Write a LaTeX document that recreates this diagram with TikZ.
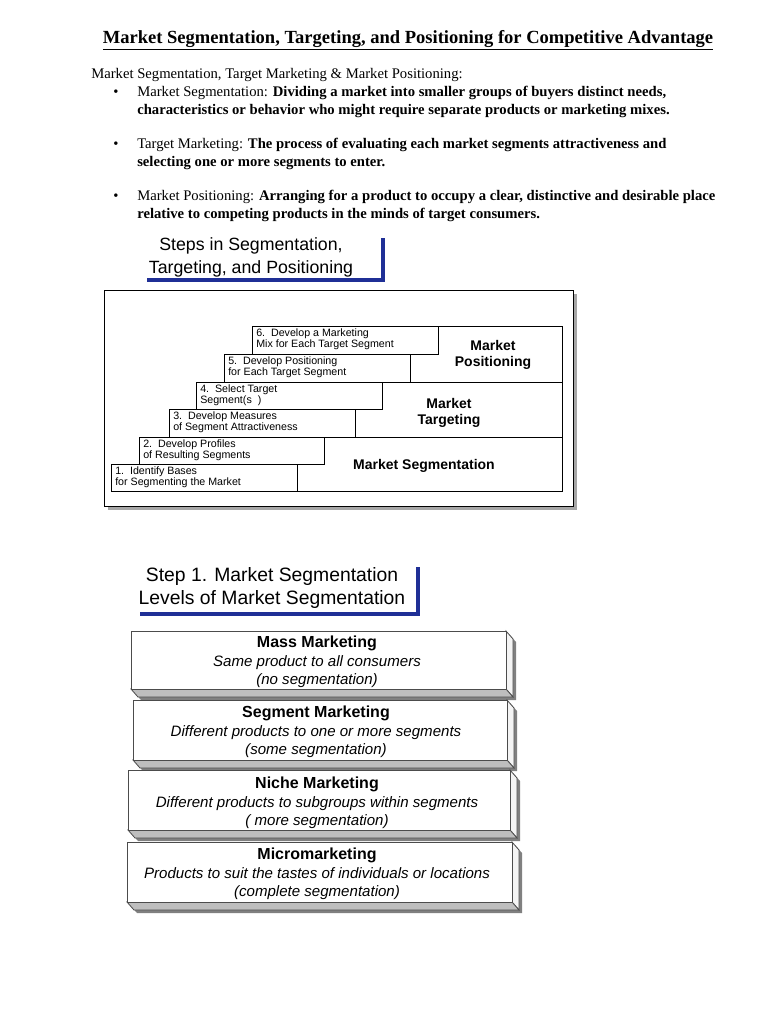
\documentclass[tikz,border=0pt]{standalone}
\usepackage{fontspec}
\setmainfont{Liberation Serif}
\setsansfont{Liberation Sans}
\definecolor{barblue}{HTML}{1F2F96}
\definecolor{slabside}{HTML}{F4F4F4}
\definecolor{slabbottom}{HTML}{BEBEBE}
\definecolor{slabshade}{HTML}{808080}
\tikzset{
  every picture/.style={line join=miter},
  bodytext/.style={anchor=west, align=left, inner sep=0pt, font=\fontsize{11}{13.5}\selectfont},
  dot/.style={inner sep=0pt, font=\fontsize{11}{13.5}\selectfont},
  heading/.style={align=center, inner sep=0pt, font=\sffamily\fontsize{13.3}{17.3}\selectfont},
  headbar/.style={barblue, line width=2.3pt},
  stepbox/.style={draw, fill=white, line width=0.6pt},
  steptext/.style={anchor=west, align=left, inner sep=0pt, font=\sffamily\fontsize{8}{8.3}\selectfont},
  stagetext/.style={align=center, inner sep=0pt, font=\sffamily\bfseries\fontsize{10.5}{12}\selectfont},
  leveltext/.style={align=center, inner sep=0pt, font=\sffamily\fontsize{11.3}{13.9}\selectfont},
}
\newcommand{\leveltitle}[1]{{\bfseries\fontsize{12}{13.9}\selectfont #1}}
% extruded level box: left, top, right, bottom (pixels, y down)
\newcommand{\levelslab}[4]{%
  \fill[slabshade] (#3+3,#2+3) -- (#3+10,#2+11) -- (#3+10,#4+11) -- (#1+10,#4+11) -- (#1+3,#4+3) -- (#3+3,#4+3) -- cycle;
  \filldraw[fill=slabside, draw=black!70, line width=0.6pt] (#3,#2) -- (#3+7,#2+8) -- (#3+7,#4+8) -- (#3,#4) -- cycle;
  \filldraw[fill=slabbottom, draw=black!70, line width=0.6pt] (#1,#4) -- (#1+7,#4+8) -- (#3+7,#4+8) -- (#3,#4) -- cycle;
  \draw[fill=white, draw=black!70, line width=0.6pt] (#1,#2) rectangle (#3,#4);
}

\begin{document}
\begin{tikzpicture}[x=0.75pt, y=-0.75pt]
  \useasboundingbox (0,0) rectangle (768,1024);
  \fill[white] (0,0) rectangle (768,1024);
  % title and the three definitions
  \node[inner sep=0pt, font=\bfseries\fontsize{13.9}{15}\selectfont] (title) at (408,40)
    {\underline{Market Segmentation, Targeting, and Positioning for Competitive Advantage}};
  \node[bodytext] (intro) at (91,75) {Market Segmentation, Target Marketing \& Market Positioning:};
  \node[dot] (dot1) at (116,93) {\textbullet};
  \node[bodytext] (segdef) at (137,102)
    {Market Segmentation: \textbf{Dividing a market into smaller groups of buyers distinct needs,}\\
     \textbf{characteristics or behavior who might require separate products or marketing mixes.}};
  \node[dot] (dot2) at (116,145) {\textbullet};
  \node[bodytext] (tardef) at (137,154)
    {Target Marketing: \textbf{The process of evaluating each market segments attractiveness and}\\
     \textbf{selecting one or more segments to enter.}};
  \node[dot] (dot3) at (116,197) {\textbullet};
  \node[bodytext] (posdef) at (137,206)
    {Market Positioning: \textbf{Arranging for a product to occupy a clear, distinctive and desirable place}\\
     \textbf{relative to competing products in the minds of target consumers.}};
  % first heading
  \node[heading] (stepshead) at (251,257) {Steps in Segmentation,\\Targeting, and Positioning};
  \draw[headbar] (147,280) -- (383,280) -- (383,238);
  % staircase frame with drop shadow
  \fill[gray!70] (108,294) rectangle (577,510);
  \draw[fill=white, line width=0.6pt] (104,290) rectangle (573,506);
  % stage blocks on the right
  \draw[stepbox] (297,437) rectangle (562,491);
  \draw[stepbox] (355,382) rectangle (562,437);
  \draw[stepbox] (410,326) rectangle (562,382);
  \node[stagetext] (segstage) at (424,466) {Market Segmentation};
  \node[stagetext] (tarstage) at (449,413) {Market\\Targeting};
  \node[stagetext] (posstage) at (493,355) {Market\\Positioning};
  % the six steps
  \draw[stepbox] (111,464) rectangle (297,491);
  \node[steptext] (step1) at (115,477) {1.\ \ Identify Bases\\for Segmenting the Market};
  \draw[stepbox] (139,437) rectangle (324,464);
  \node[steptext] (step2) at (143,450) {2.\ \ Develop Profiles\\of Resulting Segments};
  \draw[stepbox] (169,409) rectangle (355,437);
  \node[steptext] (step3) at (173,422) {3.\ \ Develop Measures\\of Segment Attractiveness};
  \draw[stepbox] (196,382) rectangle (382,409);
  \node[steptext] (step4) at (200,395) {4.\ \ Select Target\\Segment(s\ \ )};
  \draw[stepbox] (224,354) rectangle (410,382);
  \node[steptext] (step5) at (228,367) {5.\ \ Develop Positioning\\for Each Target Segment};
  \draw[stepbox] (252,326) rectangle (438,354);
  \node[steptext] (step6) at (256,339) {6.\ \ Develop a Marketing\\Mix for Each Target Segment};
  % second heading
  \node[heading, font=\sffamily\fontsize{14.5}{17.3}\selectfont] (levelhead) at (272,588)
    {Step 1. Market Segmentation\\Levels of Market Segmentation};
  \draw[headbar] (140,614) -- (418,614) -- (418,567);
  % levels of segmentation
  \levelslab{131}{631}{506}{689}
  \node[leveltext] (mass) at (317,662)
    {\leveltitle{Mass Marketing}\\\textit{Same product to all consumers}\\\textit{(no segmentation)}};
  \levelslab{133}{700}{507}{760}
  \node[leveltext] (segment) at (316,732)
    {\leveltitle{Segment Marketing}\\\textit{Different products to one or more segments}\\\textit{(some segmentation)}};
  \levelslab{128}{770}{510}{830}
  \node[leveltext] (niche) at (317,803)
    {\leveltitle{Niche Marketing}\\\textit{Different products to subgroups within segments}\\\textit{( more segmentation)}};
  \levelslab{127}{842}{512}{902}
  \node[leveltext] (micro) at (317,874)
    {\leveltitle{Micromarketing}\\\textit{Products to suit the tastes of individuals or locations}\\\textit{(complete segmentation)}};
\end{tikzpicture}
\end{document}
